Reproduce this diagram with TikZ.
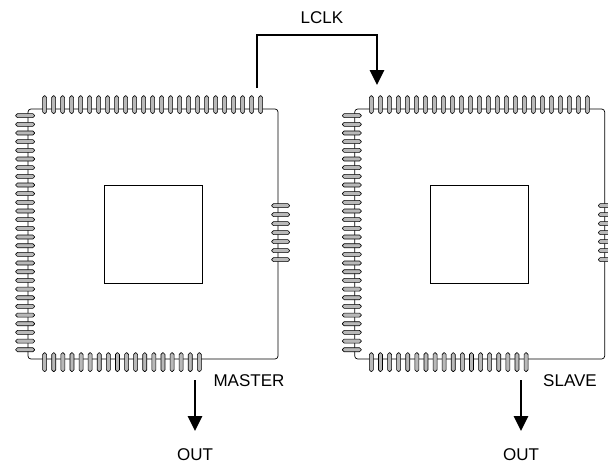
\documentclass[tikz,border=0pt]{standalone}
\usepackage{fontspec}
\setmainfont{Liberation Sans}
\usetikzlibrary{positioning, arrows.meta}

\begin{document}
\begin{tikzpicture}[x=1pt, y=-1pt, font=\fontsize{17}{20}\selectfont,
  chip/.style={draw, line width=0.7pt, rounded corners=3pt, minimum width=250pt, minimum height=250pt, inner sep=0pt},
  die/.style={draw, line width=0.7pt, minimum size=98pt, inner sep=0pt},
  leadpin/.style={draw, fill=gray!55, rounded corners=1.8pt, line width=0.6pt},
  sig/.style={line width=2.8pt, -{Triangle[length=15pt,width=14pt]}}]
  \useasboundingbox (0,0) rectangle (608,464);
  \node[chip] (master) at (153,234) {};
  \node[chip] (slave) [right=76pt of master] {};
  \node[die] (mdie) at (master) {};
  \node[die] (sdie) at (slave) {};
  % leads on the four sides
  \foreach \chip in {master, slave}{
    \begin{scope}[shift={(\chip.north west)}]
      \foreach \i in {0,...,24} \draw[leadpin] (15+9*\i,-13) rectangle ++(4,18);
      \foreach \i in {0,...,27} \draw[leadpin] (-12,5+8.67*\i) rectangle ++(19,4);
      \foreach \i in {0,...,17} \draw[leadpin] (15+9.1*\i,244) rectangle ++(4,19);
      \foreach \i in {0,...,6} \draw[leadpin] (244,95+9*\i) rectangle ++(18,4);
    \end{scope}
  }
  \node (lclk) at (322,18) {LCLK};
  \node (mlabel) at (249,381) {MASTER};
  \node (slabel) at (570,381) {SLAVE};
  \node (mo) at (195,455) {OUT};
  \node (so) at (521,455) {OUT};
  \coordinate (clkA) at (257,88);
  \coordinate (clkB) at (377,85);
  \coordinate (mout) at (195,380);
  \coordinate (mtip) at (195,431);
  \coordinate (sout) at (521,380);
  \coordinate (stip) at (521,431);
  \draw[sig] (clkA) -- (257,35) -- (377,35) -- (clkB);
  \draw[sig] (mout) -- (mtip);
  \draw[sig] (sout) -- (stip);
\end{tikzpicture}
\end{document}
